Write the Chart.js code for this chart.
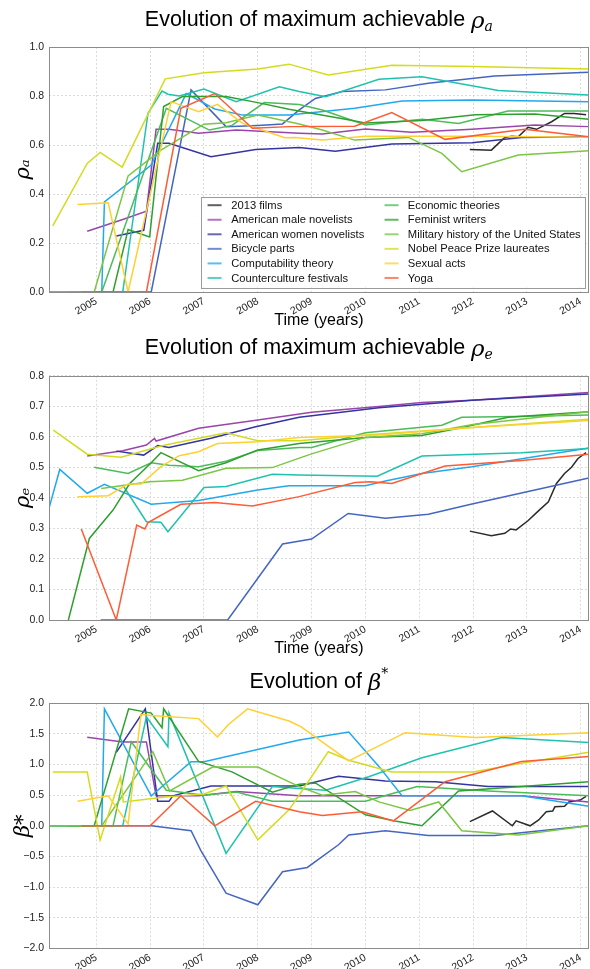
<!DOCTYPE html>
<html><head><meta charset="utf-8">
<script src="https://cdn.jsdelivr.net/npm/chart.js@4.4.0/dist/chart.umd.min.js"></script>
<style>
html,body{margin:0;padding:0;background:#fff;width:590px;height:969px;overflow:hidden;}
.box{position:absolute;left:0;width:590px;}
canvas{display:block;}
</style></head><body>
<div class="box" style="top:0;height:330px"><canvas id="c1"></canvas></div>
<div class="box" style="top:330px;height:328px"><canvas id="c2"></canvas></div>
<div class="box" style="top:658px;height:311px"><canvas id="c3"></canvas></div>
<script>
// ---------- categories / ticks ----------
const seriesNames = ['2013 films','American male novelists','American women novelists','Bicycle parts','Computability theory','Counterculture festivals','Economic theories','Feminist writers','Military history of the United States','Nobel Peace Prize laureates','Sexual acts','Yoga'];
const seriesColors = ['#2b2b2b','#9a45aa','#3434a2','#4565c2','#21a9ec','#1fc2ae','#4cbb5a','#2fa02f','#7bc642','#d4db1f','#ffd031','#ff5b35'];
const yearTicks = [2005,2006,2007,2008,2009,2010,2011,2012,2013,2014];
const rhoATicks = [0,0.2,0.4,0.6,0.8,1.0];
const rhoETicks = [0,0.1,0.2,0.3,0.4,0.5,0.6,0.7,0.8];
const betaTicks = [-2,-1.5,-1,-0.5,0,0.5,1,1.5,2];

// ---------- maximum achievable rho_a : [year, value] ----------
const rhoA_films = [[2011.94,0.582],[2012.34,0.579],[2012.59,0.631],[2012.72,0.636],[2012.84,0.634],[2013.02,0.672],[2013.18,0.664],[2013.46,0.695],[2013.7,0.729],[2013.88,0.729],[2014.1,0.723]];
const rhoA_male = [[2004.83,0.248],[2005.49,0.296],[2005.93,0.33],[2006.11,0.664],[2006.35,0.664],[2006.9,0.648],[2007.6,0.661],[2008.77,0.648],[2009.2,0.645],[2010.0,0.665],[2010.86,0.652],[2011.98,0.664],[2013.15,0.682],[2014.15,0.675]];
const rhoA_women = [[2005.37,0.229],[2005.88,0.252],[2006.14,0.607],[2006.35,0.607],[2007.13,0.552],[2007.96,0.582],[2008.77,0.59],[2009.44,0.575],[2010.49,0.604],[2011.98,0.609],[2012.9,0.631],[2014.15,0.634]];
const rhoA_bicycle = [[2005.08,0],[2006.02,0],[2006.76,0.825],[2007.41,0.675],[2008.0,0.68],[2008.46,0.686],[2008.77,0.743],[2009.07,0.79],[2009.57,0.818],[2010.37,0.825],[2011.17,0.852],[2012.4,0.882],[2014.15,0.897]];
const rhoA_comput = [[2004.0,0],[2005.1,0],[2005.15,0.368],[2006.02,0.518],[2006.67,0.81],[2007.2,0.747],[2007.72,0.722],[2008.58,0.722],[2009.8,0.75],[2010.68,0.78],[2011.98,0.784],[2014.15,0.777]];
const rhoA_counter = [[2004.0,0],[2005.49,0],[2005.96,0.73],[2006.22,0.82],[2006.33,0.807],[2006.54,0.80],[2007.0,0.828],[2007.6,0.777],[2008.4,0.838],[2008.77,0.818],[2009.26,0.797],[2010.25,0.868],[2011.05,0.879],[2012.47,0.822],[2014.15,0.804]];
const rhoA_econ = [[2004.0,0],[2005.1,0],[2006.3,0.75],[2007.1,0.661],[2007.52,0.68],[2008.12,0.773],[2008.77,0.765],[2009.2,0.743],[2010.0,0.682],[2011.05,0.705],[2011.73,0.688],[2012.65,0.739],[2014.15,0.739]];
const rhoA_fem = [[2004.48,0],[2005.31,0],[2005.59,0.255],[2005.99,0.225],[2006.25,0.757],[2006.6,0.798],[2007.41,0.798],[2008.0,0.773],[2008.58,0.746],[2009.63,0.705],[2010.0,0.69],[2011.05,0.70],[2012.04,0.723],[2013.15,0.727],[2014.15,0.705]];
const rhoA_military = [[2004.0,0],[2004.96,0],[2005.59,0.474],[2006.2,0.579],[2007.0,0.685],[2007.41,0.691],[2008.0,0.722],[2008.77,0.686],[2009.2,0.661],[2009.8,0.62],[2010.8,0.631],[2011.42,0.566],[2011.79,0.491],[2012.84,0.559],[2014.15,0.577]];
const rhoA_nobel = [[2004.19,0.27],[2004.83,0.525],[2005.07,0.57],[2005.48,0.51],[2006.28,0.87],[2007.0,0.895],[2008.0,0.91],[2008.58,0.93],[2009.31,0.886],[2010.49,0.925],[2012.0,0.92],[2014.15,0.91]];
const rhoA_sexual = [[2004.65,0.357],[2005.22,0.364],[2005.59,0],[2006.39,0.777],[2006.9,0.736],[2007.25,0.766],[2007.72,0.688],[2008.5,0.63],[2008.7,0.631],[2009.2,0.62],[2010.0,0.636],[2012.0,0.636],[2014.15,0.632]];
const rhoA_yoga = [[2004.72,0],[2005.93,0],[2006.57,0.75],[2007.2,0.81],[2007.9,0.668],[2008.58,0.675],[2009.8,0.677],[2010.49,0.732],[2011.48,0.623],[2012.96,0.664],[2014.15,0.634]];

// ---------- maximum achievable rho_e ----------
const rhoE_films = [[2011.94,0.291],[2012.34,0.276],[2012.59,0.284],[2012.7,0.298],[2012.8,0.295],[2013.02,0.325],[2013.2,0.355],[2013.4,0.387],[2013.55,0.447],[2013.7,0.48],[2013.83,0.5],[2013.95,0.529],[2014.1,0.548]];
const rhoE_male = [[2004.83,0.537],[2005.49,0.554],[2005.93,0.573],[2006.08,0.595],[2006.11,0.586],[2006.9,0.628],[2008.0,0.655],[2009.0,0.68],[2010.25,0.699],[2011.05,0.712],[2011.98,0.72],[2014.15,0.745]];
const rhoE_women = [[2005.37,0.553],[2005.88,0.54],[2006.14,0.571],[2006.35,0.565],[2007.13,0.595],[2007.96,0.633],[2008.77,0.664],[2010.25,0.695],[2011.98,0.72],[2014.15,0.74]];
const rhoE_bicycle = [[2005.08,0],[2007.44,0],[2008.46,0.249],[2009.0,0.265],[2009.68,0.349],[2010.37,0.333],[2011.17,0.346],[2011.98,0.38],[2014.15,0.465]];
const rhoE_comput = [[2004.0,0.29],[2004.32,0.493],[2004.83,0.415],[2005.15,0.444],[2006.02,0.379],[2006.9,0.391],[2008.0,0.426],[2008.58,0.44],[2010.0,0.44],[2010.37,0.455],[2011.05,0.48],[2011.98,0.502],[2014.15,0.563]];
const rhoE_counter = [[2005.49,0.442],[2005.93,0.322],[2006.2,0.32],[2006.33,0.289],[2007.0,0.434],[2007.41,0.437],[2008.27,0.477],[2008.77,0.475],[2010.22,0.471],[2011.05,0.537],[2012.9,0.548],[2014.15,0.562]];
const rhoE_econ = [[2004.96,0.5],[2005.59,0.48],[2006.02,0.515],[2006.35,0.507],[2006.9,0.502],[2007.41,0.52],[2008.0,0.555],[2008.77,0.565],[2009.0,0.565],[2010.0,0.613],[2011.42,0.638],[2011.79,0.664],[2012.78,0.666],[2014.15,0.671]];
const rhoE_fem = [[2004.48,0],[2004.87,0.267],[2005.31,0.36],[2005.62,0.447],[2006.02,0.515],[2006.2,0.548],[2006.9,0.489],[2007.41,0.515],[2008.0,0.557],[2008.77,0.578],[2010.0,0.598],[2011.05,0.604],[2011.73,0.628],[2012.65,0.664],[2014.15,0.682]];
const rhoE_military = [[2005.09,0.431],[2005.99,0.453],[2006.6,0.458],[2007.41,0.497],[2008.27,0.499],[2008.77,0.53],[2009.0,0.544],[2010.0,0.598],[2011.05,0.61],[2012.0,0.64],[2014.15,0.682]];
const rhoE_nobel = [[2004.2,0.622],[2004.83,0.543],[2005.46,0.533],[2006.1,0.565],[2006.28,0.573],[2007.41,0.613],[2008.0,0.587],[2008.77,0.587],[2010.0,0.606],[2011.98,0.63],[2014.15,0.657]];
const rhoE_sexual = [[2004.65,0.404],[2005.22,0.407],[2005.59,0.445],[2005.83,0.445],[2006.2,0.502],[2006.54,0.538],[2006.9,0.551],[2007.25,0.578],[2008.0,0.584],[2008.77,0.598],[2010.25,0.606],[2011.98,0.63],[2014.15,0.653]];
const rhoE_yoga = [[2004.72,0.298],[2005.37,0],[2005.75,0.311],[2005.9,0.298],[2005.96,0.319],[2006.57,0.379],[2007.2,0.385],[2007.9,0.373],[2008.77,0.404],[2009.81,0.45],[2010.1,0.453],[2010.49,0.447],[2011.48,0.504],[2012.9,0.522],[2014.15,0.543]];

// ---------- beta* ----------
const beta_films = [[2011.94,0.068],[2012.36,0.242],[2012.73,0.0],[2012.8,0.082],[2013.06,0.0],[2013.22,0.095],[2013.36,0.23],[2013.48,0.24],[2013.52,0.31],[2013.7,0.32],[2013.78,0.39],[2013.99,0.42],[2014.1,0.48]];
const beta_male = [[2004.83,1.445],[2005.49,1.37],[2005.93,1.37],[2006.11,0.49],[2006.9,0.49],[2007.6,0.56],[2008.77,0.49],[2012.9,0.49],[2014.15,0.39]];
const beta_women = [[2005.37,1.2],[2005.91,1.91],[2006.14,0.40],[2006.35,0.40],[2006.42,0.49],[2007.13,0.65],[2008.77,0.65],[2009.5,0.81],[2010.37,0.73],[2011.3,0.72],[2012.28,0.64],[2014.15,0.64]];
const beta_bicycle = [[2005.08,0],[2006.02,0],[2006.76,-0.08],[2006.94,-0.4],[2007.41,-1.1],[2008.0,-1.29],[2008.46,-0.75],[2008.92,-0.68],[2009.5,-0.31],[2009.69,-0.15],[2010.37,-0.08],[2011.17,-0.16],[2012.4,-0.16],[2014.15,0.0]];
const beta_comput = [[2004.0,0],[2005.1,0],[2005.15,1.91],[2006.02,0.49],[2006.76,1.045],[2007.0,1.045],[2008.77,1.4],[2009.69,1.53],[2010.25,0.97],[2010.68,0.49],[2012.9,0.49],[2014.15,0.32]];
const beta_counter = [[2004.0,0],[2005.49,0],[2005.93,1.78],[2006.33,1.29],[2006.35,1.84],[2007.41,-0.45],[2008.27,0.64],[2008.77,0.61],[2009.26,0.58],[2010.06,0.8],[2011.05,1.11],[2012.53,1.44],[2014.15,1.36]];
const beta_econ = [[2004.0,0],[2005.31,0],[2005.65,1.37],[2006.3,0.58],[2007.0,0.5],[2007.6,0.55],[2008.27,0.4],[2010.0,0.4],[2010.96,0.64],[2012.28,0.57],[2014.15,0.49]];
const beta_fem = [[2004.48,0],[2004.96,0],[2005.6,1.91],[2006.02,1.84],[2006.22,1.6],[2006.25,1.91],[2006.9,1.05],[2007.52,0.88],[2008.27,0.55],[2008.77,0.68],[2009.07,0.7],[2010.0,0.18],[2010.55,0.08],[2011.05,0.0],[2011.73,0.57],[2012.9,0.64],[2014.15,0.72]];
const beta_military = [[2004.0,0],[2005.1,0],[2006.05,1.21],[2006.36,0.57],[2007.16,0.96],[2008.0,0.96],[2008.77,0.64],[2009.2,0.5],[2009.81,0.56],[2010.25,0.39],[2010.83,0.25],[2011.36,0.39],[2011.79,-0.08],[2012.84,-0.15],[2014.15,0.0]];
const beta_nobel = [[2004.19,0.88],[2004.83,0.88],[2005.07,-0.23],[2005.45,0.8],[2005.5,0.39],[2006.28,0.47],[2007.0,0.52],[2007.41,0.65],[2008.0,-0.23],[2008.58,0.26],[2008.83,0.58],[2009.31,1.21],[2009.69,1.07],[2010.49,0.88],[2012.0,0.88],[2012.9,1.02],[2014.15,1.2]];
const beta_sexual = [[2004.65,0.4],[2005.22,0.49],[2005.59,0.03],[2005.83,1.82],[2006.02,1.8],[2006.9,1.75],[2007.25,1.45],[2007.45,1.65],[2007.81,1.91],[2008.58,1.71],[2008.8,1.62],[2009.69,1.06],[2010.74,1.52],[2012.04,1.44],[2014.15,1.52]];
const beta_yoga = [[2004.72,0],[2006.0,0],[2006.57,0.49],[2007.2,0.0],[2007.96,0.4],[2008.77,0.23],[2009.2,0.17],[2009.94,0.23],[2010.52,0.08],[2011.48,0.72],[2012.9,1.05],[2014.15,1.13]];

const rhoA = [rhoA_films,rhoA_male,rhoA_women,rhoA_bicycle,rhoA_comput,rhoA_counter,rhoA_econ,rhoA_fem,rhoA_military,rhoA_nobel,rhoA_sexual,rhoA_yoga];
const rhoE = [rhoE_films,rhoE_male,rhoE_women,rhoE_bicycle,rhoE_comput,rhoE_counter,rhoE_econ,rhoE_fem,rhoE_military,rhoE_nobel,rhoE_sexual,rhoE_yoga];
const beta = [beta_films,beta_male,beta_women,beta_bicycle,beta_comput,beta_counter,beta_econ,beta_fem,beta_military,beta_nobel,beta_sexual,beta_yoga];

const xMin = 2004.12, xMax = 2014.15;
const SANS = '"Liberation Sans", Arial, sans-serif';
const SERIF = '"DejaVu Serif", serif';

const framePlugin = {
  id: 'frame',
  afterDatasetsDraw(chart) {
    const {ctx, chartArea: a} = chart;
    ctx.save();
    ctx.strokeStyle = '#8c8c8c';
    ctx.lineWidth = 1;
    ctx.strokeRect(Math.round(a.left)+0.5, Math.round(a.top)+0.5, Math.round(a.right-a.left)-1, Math.round(a.bottom-a.top));
    ctx.restore();
  },
  afterDraw(chart, args, opts) {
    const ctx = chart.ctx;
    const a = chart.chartArea;
    ctx.save();
    // title
    const f1 = '21.5px ' + SANS, f2 = 'italic 23px ' + SERIF, f3 = 'italic 14px ' + SERIF;
    ctx.fillStyle = '#000';
    ctx.textBaseline = 'alphabetic';
    ctx.font = f1; const w1 = ctx.measureText(opts.title).width;
    ctx.font = f2; const w2 = ctx.measureText(opts.sym).width;
    ctx.font = f3; const w3 = ctx.measureText(opts.sub).width;
    const cx = (a.left + a.right) / 2;
    let x = cx - (w1 + w2 + w3) / 2;
    const base = opts.titleY + 7.5;
    ctx.font = f1; ctx.fillText(opts.title, x, base);
    ctx.font = f2; ctx.fillText(opts.sym, x + w1, base + 2);
    ctx.font = f3; ctx.fillText(opts.sub, x + w1 + w2, base + (opts.sup ? -10 : 5));
    // legend
    if (opts.legend) {
      const R = a.right - 3.5, B = a.bottom - 4.5, W = 384, H = 90.6;
      const L = R - W, T = B - H;
      ctx.fillStyle = '#fff';
      ctx.fillRect(L, T, W, H);
      ctx.strokeStyle = '#9a9a9a'; ctx.lineWidth = 1;
      ctx.strokeRect(Math.round(L)+0.5, Math.round(T)+0.5, Math.round(W), Math.round(H));
      ctx.font = '11.2px ' + SANS;
      ctx.textBaseline = 'middle';
      seriesNames.forEach((name, i) => {
        const col = Math.floor(i / 6), row = i % 6;
        const y = T + 8.3 + row * 14.55;
        const sx = col === 0 ? L + 6.3 : L + 183.3;
        ctx.globalAlpha = 0.75;
        ctx.strokeStyle = seriesColors[i]; ctx.lineWidth = 2;
        ctx.beginPath(); ctx.moveTo(sx, y); ctx.lineTo(sx + 14, y); ctx.stroke();
        ctx.globalAlpha = 1;
        ctx.fillStyle = '#111';
        ctx.fillText(name, col === 0 ? L + 30 : L + 206.6, y + 0.5);
      });
    }
    ctx.restore();
  }
};

function buildDatasets(lists) {
  return lists.map((pts, i) => ({
    label: seriesNames[i],
    data: pts.map(p => ({x: p[0], y: p[1]})),
    borderColor: seriesColors[i],
    backgroundColor: seriesColors[i],
    borderWidth: 1.5,
    pointRadius: 0,
    fill: false,
    tension: 0,
    order: seriesNames.length - i
  }));
}

const fmt = v => (v < 0 ? '\u2212' : '') + Math.abs(v).toFixed(1);

function makeChart(id, lists, cfg) {
  return new Chart(document.getElementById(id), {
    type: 'line',
    data: {datasets: buildDatasets(lists)},
    options: {
      responsive: true, maintainAspectRatio: false, animation: false, events: [],
      layout: {padding: {top: cfg.top, left: 0, right: 1, bottom: 0}},
      plugins: {
        legend: {display: false}, tooltip: {enabled: false}, title: {display: false},
        frame: {title: cfg.title, sym: cfg.sym, sub: cfg.sub, sup: cfg.sup, titleY: cfg.titleY, legend: cfg.legend}
      },
      scales: {
        x: {
          type: 'linear', min: xMin, max: xMax,
          afterBuildTicks: s => { s.ticks = yearTicks.map(v => ({value: v})); },
          afterFit: s => { s.height = cfg.xh; },
          ticks: {autoSkip: false, minRotation: 30, maxRotation: 30, padding: 3, color: '#222',
                  font: {family: SANS, size: 10.5}, callback: v => String(v)},
          grid: {color: '#d2d2d2', lineWidth: 0.8, drawTicks: false},
          border: {display: false, dash: [2, 2]},
          title: {display: !!cfg.xTitle, text: cfg.xTitle || '', color: '#000',
                  font: {family: SANS, size: 16}, padding: {top: 0, bottom: 0}}
        },
        y: {
          type: 'linear', min: cfg.ymin, max: cfg.ymax,
          afterBuildTicks: s => { s.ticks = cfg.yticks.map(v => ({value: v})); },
          afterFit: s => { s.width = 49; },
          ticks: {padding: 5, color: '#222', font: {family: SANS, size: 10.5}, callback: fmt},
          grid: {color: '#d2d2d2', lineWidth: 0.8, drawTicks: false},
          border: {display: false, dash: [2, 2]},
          title: {display: true, text: cfg.yTitle, color: '#000',
                  font: {family: SERIF, size: 21, style: 'italic'}, padding: {top: 11, bottom: 0}}
        }
      }
    },
    plugins: [framePlugin]
  });
}

makeChart('c1', rhoA, {top: 47, xh: 38, ymin: 0, ymax: 1, yticks: rhoATicks, yTitle: 'ρₐ', xTitle: 'Time (years)',
  title: 'Evolution of maximum achievable ', sym: 'ρ', sub: 'a', sup: false, titleY: 18.5, legend: true});
makeChart('c2', rhoE, {top: 45.7, xh: 38, ymin: 0, ymax: 0.8, yticks: rhoETicks, yTitle: 'ρₑ', xTitle: 'Time (years)',
  title: 'Evolution of maximum achievable ', sym: 'ρ', sub: 'e', sup: false, titleY: 16.5, legend: false});
makeChart('c3', beta, {top: 45.3, xh: 20.7, ymin: -2, ymax: 2, yticks: betaTicks, yTitle: 'β*', xTitle: '',
  title: 'Evolution of ', sym: 'β', sub: '*', sup: true, titleY: 22, legend: false});
</script>
</body></html>
